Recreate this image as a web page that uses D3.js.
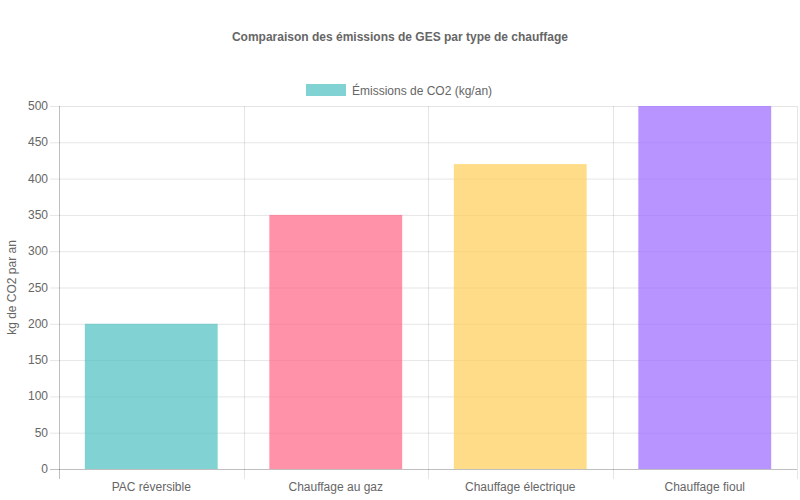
<!DOCTYPE html>
<html>
<head>
<meta charset="utf-8">
<script src="https://cdn.jsdelivr.net/npm/d3@7"></script>
<style>
  body { margin: 0; background: #fff; }
  svg { font-family: "Liberation Sans", Arial, sans-serif; }
</style>
</head>
<body>
<svg id="chart" width="800" height="500"></svg>
<script>
var categories = ["PAC réversible", "Chauffage au gaz", "Chauffage électrique", "Chauffage fioul"];
var emissions = [200, 350, 420, 500];
var barColors = ["rgb(75,192,192)", "rgb(255,99,132)", "rgb(255,206,86)", "rgb(153,102,255)"];
var yTicks = [0, 50, 100, 150, 200, 250, 300, 350, 400, 450, 500];

var svg = d3.select("#chart");
var plotLeft = 59, plotRight = 797, plotTop = 106, plotBottom = 469;

var x = d3.scaleBand().domain(categories).range([plotLeft, plotRight]).padding(0);
var y = d3.scaleLinear().domain([0, 500]).range([plotBottom, plotTop]);

// title
svg.append("text")
  .attr("x", 400).attr("y", 41)
  .attr("text-anchor", "middle")
  .style("font-size", "12px").style("font-weight", "bold").style("fill", "#666")
  .text("Comparaison des émissions de GES par type de chauffage");

// legend
svg.append("rect")
  .attr("x", 306).attr("y", 84).attr("width", 40).attr("height", 12)
  .attr("fill", barColors[0]).attr("fill-opacity", 0.7);
svg.append("text")
  .attr("x", 352).attr("y", 94.5)
  .style("font-size", "12px").style("fill", "#666")
  .text("Émissions de CO2 (kg/an)");

// horizontal grid
svg.append("g").selectAll("line").data(yTicks).enter().append("line")
  .attr("x1", plotLeft - 9).attr("x2", plotRight)
  .attr("y1", function(d) { return y(d) + 0.5; })
  .attr("y2", function(d) { return y(d) + 0.5; })
  .attr("stroke", function(d) { return d === 0 ? "rgba(0,0,0,0.25)" : "rgba(0,0,0,0.1)"; });

// vertical grid
var vlines = categories.map(function(c) { return x(c); }).concat([plotRight]);
svg.append("g").selectAll("line").data(vlines).enter().append("line")
  .attr("x1", function(d) { return Math.round(d) + 0.5; })
  .attr("x2", function(d) { return Math.round(d) + 0.5; })
  .attr("y1", plotTop).attr("y2", plotBottom + 10)
  .attr("stroke", function(d, i) { return i === 0 ? "rgba(0,0,0,0.25)" : "rgba(0,0,0,0.1)"; });

// bars
var bw = x.bandwidth();
svg.append("g").selectAll("rect").data(emissions).enter().append("rect")
  .attr("x", function(d, i) { return x(categories[i]) + bw * 0.14; })
  .attr("width", bw * 0.72)
  .attr("y", function(d) { return y(d); })
  .attr("height", function(d) { return plotBottom - y(d); })
  .attr("fill", function(d, i) { return barColors[i]; })
  .attr("fill-opacity", 0.7);

// y tick labels
svg.append("g").selectAll("text").data(yTicks).enter().append("text")
  .attr("x", 48).attr("y", function(d) { return y(d) + 4; })
  .attr("text-anchor", "end")
  .style("font-size", "12px").style("fill", "#666")
  .text(function(d) { return d; });

// x tick labels
svg.append("g").selectAll("text").data(categories).enter().append("text")
  .attr("x", function(d) { return x(d) + bw / 2; })
  .attr("y", 491)
  .attr("text-anchor", "middle")
  .style("font-size", "12px").style("fill", "#666")
  .text(function(d) { return d; });

// y axis title
svg.append("text")
  .attr("transform", "translate(16," + ((plotTop + plotBottom) / 2) + ") rotate(-90)")
  .attr("text-anchor", "middle")
  .style("font-size", "12px").style("fill", "#666")
  .text("kg de CO2 par an");
</script>
</body>
</html>
